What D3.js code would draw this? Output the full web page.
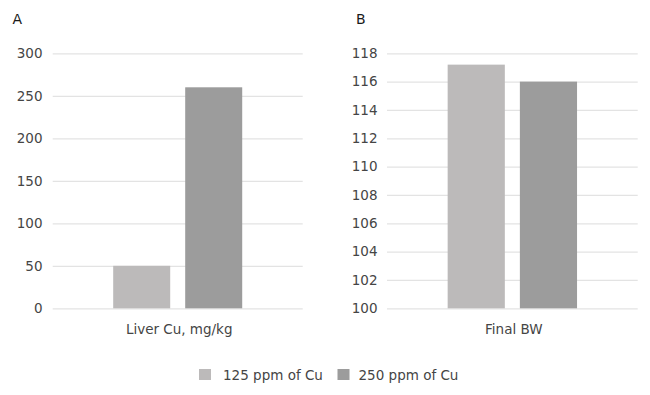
<!DOCTYPE html>
<html>
<head>
<meta charset="utf-8">
<script src="https://cdn.jsdelivr.net/npm/d3@7"></script>
<style>
  html, body { margin: 0; padding: 0; background: #fff; }
  svg { display: block; font-family: "DejaVu Sans", sans-serif; }
</style>
</head>
<body>
<svg id="chart" width="650" height="395"></svg>
<script>
// ---- data ----
const seriesNames = ["125 ppm of Cu", "250 ppm of Cu"];
const seriesColors = ["#bcbaba", "#9c9c9c"];
const panelLetters = ["A", "B"];
const panelCategories = ["Liver Cu, mg/kg", "Final BW"];
const valuesA = [50, 260];
const valuesB = [117.2, 116.0];
const ticksA = [0, 50, 100, 150, 200, 250, 300];
const ticksB = [100, 102, 104, 106, 108, 110, 112, 114, 116, 118];

const svg = d3.select("#chart");
const textColor = "#454545";
const fontSize = 13.5;

const panels = [
  { letter: panelLetters[0], category: panelCategories[0], values: valuesA, ticks: ticksA,
    domain: [0, 300], x0: 52.7, x1: 302.7, letterX: 12.5, labelRight: 42.5 },
  { letter: panelLetters[1], category: panelCategories[1], values: valuesB, ticks: ticksB,
    domain: [100, 118], x0: 387, x1: 637.7, letterX: 356, labelRight: 377.5 }
];

const yTop = 53.3, yBottom = 308.3;

panels.forEach(p => {
  const g = svg.append("g");
  const y = d3.scaleLinear().domain(p.domain).range([yBottom, yTop]);
  const xCat = d3.scaleBand().domain([p.category]).range([p.x0, p.x1]).padding(0);
  const xSer = d3.scaleBand().domain(seriesNames).range([0, xCat.bandwidth()])
    .paddingInner(15 / 72).paddingOuter(0.84);

  // gridlines
  const grid = d3.axisLeft(y).tickValues(p.ticks).tickSize(-(p.x1 - p.x0)).tickFormat("");
  const gg = g.append("g").attr("transform", `translate(${p.x0},0)`).call(grid);
  gg.select(".domain").remove();
  gg.selectAll(".tick line").attr("stroke", "#e3e3e3").attr("stroke-width", 1.2);

  // tick labels
  const axis = d3.axisLeft(y).tickValues(p.ticks).tickSize(0).tickPadding(0);
  const ga = g.append("g").attr("transform", `translate(${p.labelRight},0)`).call(axis);
  ga.select(".domain").remove();
  ga.selectAll(".tick text")
    .attr("fill", textColor)
    .attr("font-size", fontSize)
    .attr("font-family", "DejaVu Sans, sans-serif");

  // bars
  g.selectAll("rect.bar")
    .data(p.values.map((v, i) => ({ v, s: seriesNames[i], c: seriesColors[i] })))
    .join("rect")
    .attr("class", "bar")
    .attr("x", d => xCat(p.category) + xSer(d.s))
    .attr("width", xSer.bandwidth())
    .attr("y", d => y(d.v))
    .attr("height", d => y(p.domain[0]) - y(d.v))
    .attr("fill", d => d.c);

  // category label
  const xc = xCat(p.category) + xCat.bandwidth() / 2;
  g.append("text")
    .attr("x", xc + 1.5)
    .attr("y", 334)
    .attr("text-anchor", "middle")
    .attr("fill", textColor)
    .attr("font-size", fontSize)
    .text(p.category);

  // panel letter
  g.append("text")
    .attr("x", p.letterX)
    .attr("y", 24)
    .attr("fill", "#1a1a1a")
    .attr("font-size", 14)
    .text(p.letter);
});

// legend
const legend = svg.append("g");
const legendX = [199, 337.5];
seriesNames.forEach((name, i) => {
  legend.append("rect")
    .attr("x", legendX[i]).attr("y", 369)
    .attr("width", 12).attr("height", 11)
    .attr("fill", seriesColors[i]);
  legend.append("text")
    .attr("x", legendX[i] + (i === 0 ? 24 : 21))
    .attr("y", 379.5)
    .attr("fill", textColor)
    .attr("font-size", fontSize)
    .text(name);
});
</script>
</body>
</html>
